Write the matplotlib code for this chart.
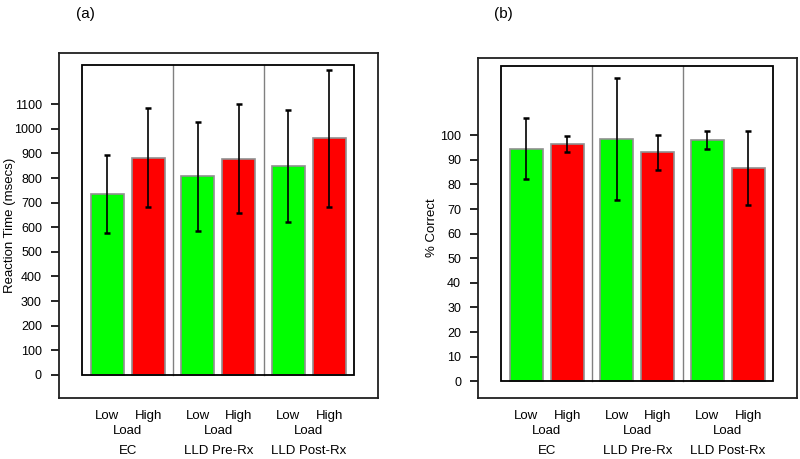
import matplotlib.pyplot as plt
from matplotlib.patches import Rectangle
from matplotlib.transforms import blended_transform_factory

plt.rcParams['font.family'] = ['Liberation Sans', 'DejaVu Sans']

groups = ['EC', 'LLD Pre-Rx', 'LLD Post-Rx']
loads = ['Low', 'High']

rt_low = [735, 807, 850]
rt_low_err = [158, 222, 228]
rt_high = [883, 878, 961]
rt_high_err = [200, 222, 279]

pc_low = [94.5, 98.5, 98.0]
pc_low_err = [12.4, 24.7, 3.7]
pc_high = [96.5, 93.0, 86.7]
pc_high_err = [3.2, 7.0, 15.1]

rt_ticks = list(range(0, 1101, 100))
pc_ticks = list(range(0, 101, 10))

GREEN = '#00ff00'
RED = '#ff0000'


def panel(ax, low, low_err, high, high_err, ticks, ylim, inner_top, ylabel, label_x,
          title, title_x):
    off = 0.226
    w = 0.366
    xs = list(range(len(groups)))
    xl = [x - off for x in xs]
    xh = [x + off for x in xs]

    # inner frame and group separators
    ax.add_patch(Rectangle((-0.5, 0), len(groups), inner_top, fill=False,
                           edgecolor='black', linewidth=1.3, zorder=4))
    for s in [0.5, 1.5]:
        ax.plot([s, s], [0, inner_top], color='#808080', linewidth=1.0, zorder=1)

    ax.bar(xl, low, width=w, color=GREEN, edgecolor='#909090', linewidth=1.2, zorder=2)
    ax.bar(xh, high, width=w, color=RED, edgecolor='#909090', linewidth=1.2, zorder=2)
    ax.errorbar(xl, low, yerr=low_err, fmt='none', ecolor='black', elinewidth=1.2,
                capsize=2.5, capthick=1.8, zorder=5)
    ax.errorbar(xh, high, yerr=high_err, fmt='none', ecolor='black', elinewidth=1.2,
                capsize=2.5, capthick=1.8, zorder=5)

    ax.set_xlim(-0.755, 2.76)
    ax.set_ylim(*ylim)
    ax.set_yticks(ticks)
    ax.tick_params(axis='y', length=5.5, width=1.2, labelsize=9, pad=7)
    ax.set_xticks([])
    for sp in ax.spines.values():
        sp.set_linewidth(1.3)
        sp.set_color('#202020')
    ax.set_ylabel(ylabel, fontsize=9.5)
    ax.yaxis.set_label_coords(label_x, 0.5)

    tr = blended_transform_factory(ax.transData, ax.transAxes)
    for i in xs:
        ax.text(xl[i], -0.052, loads[0], transform=tr, ha='center', va='center', fontsize=9.5)
        ax.text(xh[i], -0.052, loads[1], transform=tr, ha='center', va='center', fontsize=9.5)
        ax.text(i, -0.097, 'Load', transform=tr, ha='center', va='center', fontsize=9.5)
        ax.text(i, -0.155, groups[i], transform=tr, ha='center', va='center', fontsize=9.5)

    fig.text(title_x, 1 - 14 / 459, title, ha='center', va='center', fontsize=11)


fig = plt.figure(figsize=(8, 4.59), dpi=100)
ax1 = fig.add_axes([0.0741, 0.1336, 0.398, 0.7503])
ax2 = fig.add_axes([0.598, 0.1329, 0.398, 0.7414])

panel(ax1, rt_low, rt_low_err, rt_high, rt_high_err, rt_ticks, (-93, 1307), 1260,
      'Reaction Time (msecs)', -0.137, '(a)', 85 / 800)
panel(ax2, pc_low, pc_low_err, pc_high, pc_high_err, pc_ticks, (-6.8, 131.5), 128.2,
      '% Correct', -0.127, '(b)', 503 / 800)

fig.savefig('out.png', dpi=100)
